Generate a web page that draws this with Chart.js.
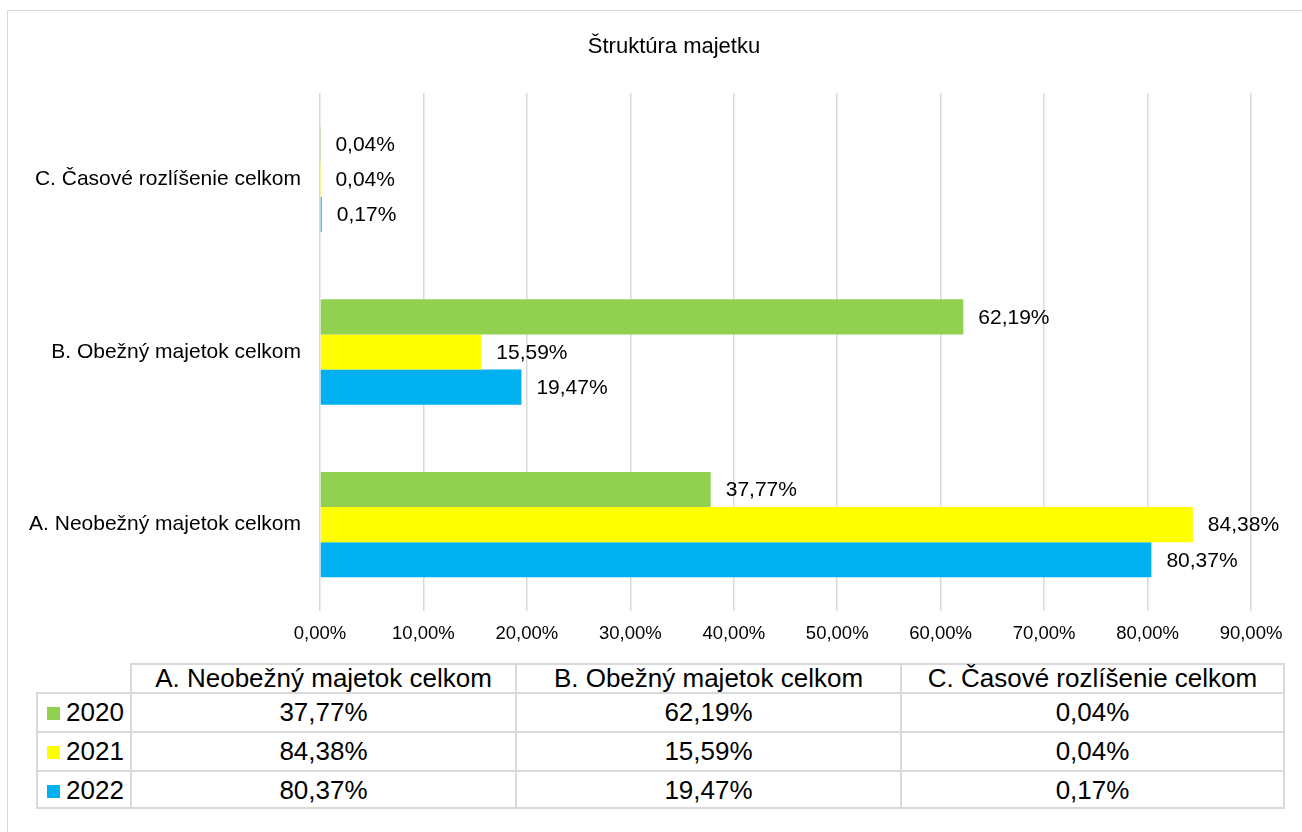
<!DOCTYPE html>
<html>
<head>
<meta charset="utf-8">
<script src="https://cdn.jsdelivr.net/npm/chart.js@4"></script>
<style>
  html,body{margin:0;padding:0;background:#fff;}
  body{width:1302px;height:832px;position:relative;overflow:hidden;font-family:"Liberation Sans",Arial,sans-serif;}
  #frame{position:absolute;left:7px;top:10px;width:1400px;height:900px;border:1.5px solid #d9d9d9;box-sizing:border-box;}
  #title{position:absolute;left:474px;width:400px;top:32px;text-align:center;font-size:22px;line-height:28px;color:#000;}
  #wrap{position:absolute;left:0;top:0;width:1302px;height:660px;}
  #dataTable{position:absolute;left:36px;top:663px;display:grid;grid-template-columns:94px 385px 385px 385px;grid-template-rows:29px 39px 39px 39px;font-size:26px;color:#000;}
  #dataTable div{box-sizing:border-box;border-left:2px solid #d9d9d9;border-top:2px solid #d9d9d9;text-align:center;white-space:nowrap;overflow:visible;}
  #dataTable .hdr{line-height:27px;}
  #dataTable .cell{line-height:37px;}
  #dataTable .last{border-right:2px solid #d9d9d9;}
  #dataTable .bottom{border-bottom:2px solid #d9d9d9;}
  #dataTable div.blank{border:none;}
  #dataTable div.key{text-align:left;padding-left:9px;}
  .sw{display:inline-block;width:13px;height:13px;margin-right:6px;vertical-align:1px;}
</style>
</head>
<body>
<div id="frame"></div>
<div id="wrap"><canvas id="chartMajetok"></canvas></div>
<div id="title">Štruktúra majetku</div>
<div id="dataTable"></div>
<script>
const categories = ['A. Neobežný majetok celkom','B. Obežný majetok celkom','C. Časové rozlíšenie celkom'];
const years  = ['2020','2021','2022'];
const val2020 = [37.77, 62.19, 0.04];
const val2021 = [84.38, 15.59, 0.04];
const val2022 = [80.37, 19.47, 0.17];
const colors = ['#92D050','#FFFF00','#00B0F0'];
const xTicks = [0,10,20,30,40,50,60,70,80,90];

const series = [val2020, val2021, val2022];
const pct = v => v.toFixed(2).replace('.',',')+'%';

// data labels at the end of each bar
const barLabels = {
  id:'barLabels',
  afterDatasetsDraw(chart){
    const ctx = chart.ctx;
    ctx.save();
    ctx.font = '21px "Liberation Sans", Arial, sans-serif';
    ctx.fillStyle = '#000';
    ctx.textAlign = 'left';
    ctx.textBaseline = 'middle';
    chart.data.datasets.forEach((ds,i)=>{
      chart.getDatasetMeta(i).data.forEach((bar,j)=>{
        ctx.fillText(pct(ds.data[j]), bar.x+15, bar.y+1);
      });
    });
    ctx.restore();
  }
};

new Chart(document.getElementById('chartMajetok'),{
  type:'bar',
  data:{
    labels:categories,
    datasets:years.map((y,i)=>({label:y,data:series[i],backgroundColor:colors[i],borderWidth:0,categoryPercentage:0.61,barPercentage:1}))
  },
  options:{
    indexAxis:'y',
    responsive:true,
    maintainAspectRatio:false,
    animation:false,
    layout:{padding:{top:93,left:0,right:51,bottom:0}},
    plugins:{
      legend:{display:false},
      tooltip:{enabled:false},
      title:{display:false}
    },
    scales:{
      x:{
        min:0,max:90,
        afterFit(s){ s.height = 49; },
        afterBuildTicks(s){ s.ticks = xTicks.map(v=>({value:v})); },
        grid:{color:'#d9d9d9',lineWidth:1.5,drawTicks:false},
        border:{display:false},
        ticks:{padding:12,color:'#000',font:{family:'"Liberation Sans", Arial, sans-serif',size:18.5},callback:v=>pct(v)}
      },
      y:{
        reverse:true,
        afterFit(s){ s.width = 320; },
        grid:{display:false,drawTicks:false},
        border:{display:false},
        ticks:{padding:19,color:'#000',font:{family:'"Liberation Sans", Arial, sans-serif',size:21}}
      }
    }
  },
  plugins:[barLabels]
});

// data table under the chart
let html = '<div class="blank"></div>' +
  categories.map((c,k)=>`<div class="hdr${k===categories.length-1?' last':''}">${c}</div>`).join('');
years.forEach((y,i)=>{
  const b = i===years.length-1 ? ' bottom' : '';
  html += `<div class="cell key${b}"><span class="sw" style="background:${colors[i]}"></span>${y}</div>` +
    series[i].map((v,k)=>`<div class="cell${b}${k===series[i].length-1?' last':''}">${pct(v)}</div>`).join('');
});
document.getElementById('dataTable').innerHTML = html;
</script>
</body>
</html>
